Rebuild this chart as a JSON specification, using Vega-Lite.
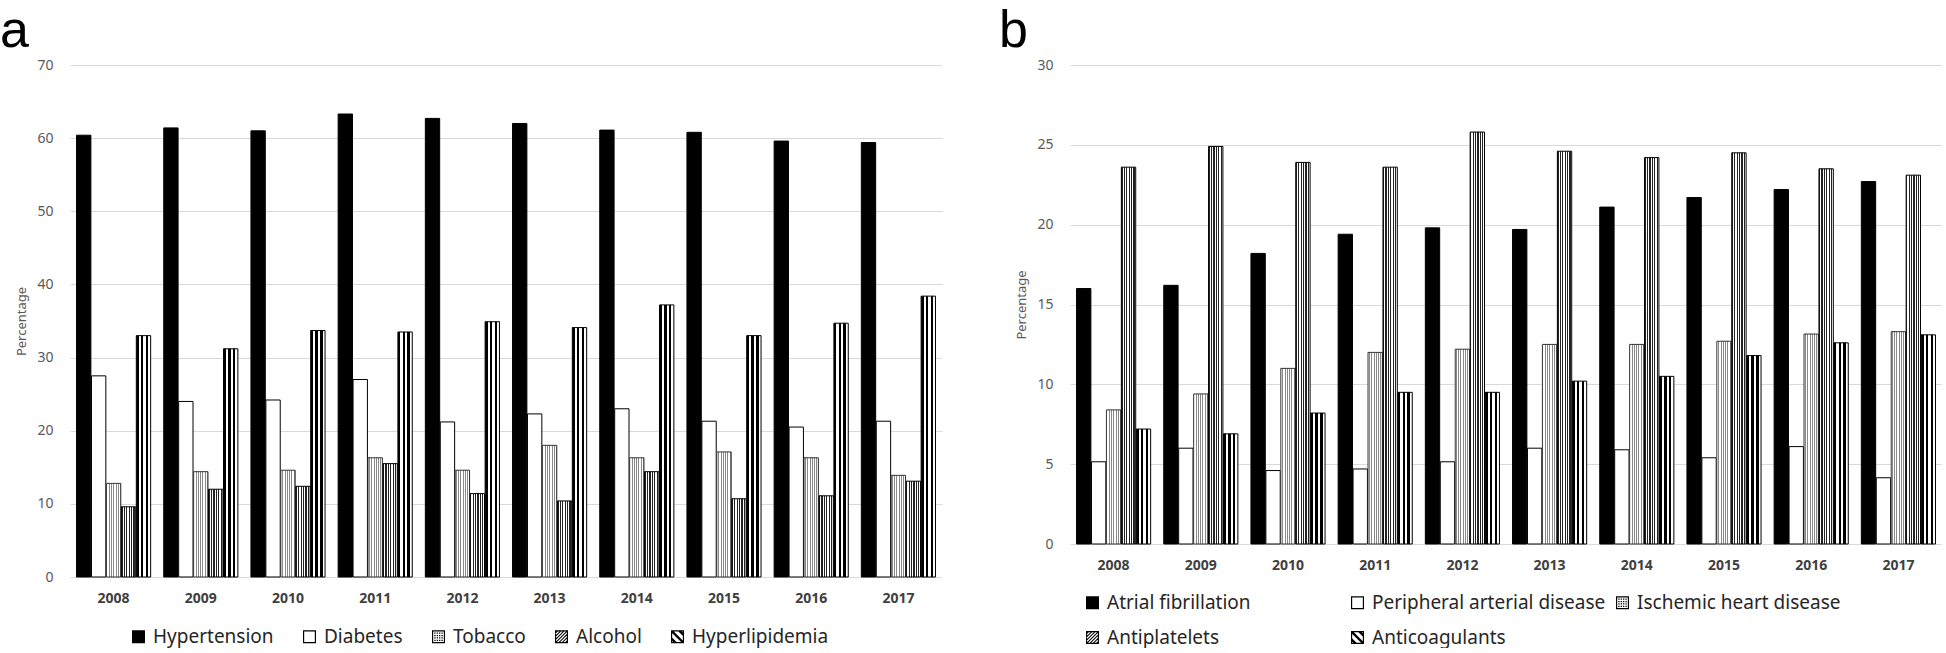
{
  "$schema": "https://vega.github.io/schema/vega-lite/v6.json",
  "background": "white",
  "padding": {"left": 0, "top": 5, "right": 0, "bottom": 0},
  "bounds": "flush",
  "spacing": 128,
  "config": {"view": {"stroke": null}, "font": "Noto Sans"},
  "resolve": {"scale": {"shape": "independent", "y": "independent", "x": "independent", "xOffset": "independent"}, "legend": {"shape": "independent"}},
  "datasets": {
    "a": [
      {"year": "2008", "series": "Hypertension", "value": 60.4},
      {"year": "2009", "series": "Hypertension", "value": 61.4},
      {"year": "2010", "series": "Hypertension", "value": 61.0},
      {"year": "2011", "series": "Hypertension", "value": 63.3},
      {"year": "2012", "series": "Hypertension", "value": 62.7},
      {"year": "2013", "series": "Hypertension", "value": 62.0},
      {"year": "2014", "series": "Hypertension", "value": 61.1},
      {"year": "2015", "series": "Hypertension", "value": 60.8},
      {"year": "2016", "series": "Hypertension", "value": 59.6},
      {"year": "2017", "series": "Hypertension", "value": 59.4},
      {"year": "2008", "series": "Diabetes", "value": 27.5},
      {"year": "2009", "series": "Diabetes", "value": 24.0},
      {"year": "2010", "series": "Diabetes", "value": 24.2},
      {"year": "2011", "series": "Diabetes", "value": 27.0},
      {"year": "2012", "series": "Diabetes", "value": 21.2},
      {"year": "2013", "series": "Diabetes", "value": 22.3},
      {"year": "2014", "series": "Diabetes", "value": 23.0},
      {"year": "2015", "series": "Diabetes", "value": 21.3},
      {"year": "2016", "series": "Diabetes", "value": 20.5},
      {"year": "2017", "series": "Diabetes", "value": 21.3},
      {"year": "2008", "series": "Tobacco", "value": 12.8},
      {"year": "2009", "series": "Tobacco", "value": 14.4},
      {"year": "2010", "series": "Tobacco", "value": 14.6},
      {"year": "2011", "series": "Tobacco", "value": 16.3},
      {"year": "2012", "series": "Tobacco", "value": 14.6},
      {"year": "2013", "series": "Tobacco", "value": 18.0},
      {"year": "2014", "series": "Tobacco", "value": 16.3},
      {"year": "2015", "series": "Tobacco", "value": 17.1},
      {"year": "2016", "series": "Tobacco", "value": 16.3},
      {"year": "2017", "series": "Tobacco", "value": 13.9},
      {"year": "2008", "series": "Alcohol", "value": 9.6},
      {"year": "2009", "series": "Alcohol", "value": 12.0},
      {"year": "2010", "series": "Alcohol", "value": 12.4},
      {"year": "2011", "series": "Alcohol", "value": 15.5},
      {"year": "2012", "series": "Alcohol", "value": 11.4},
      {"year": "2013", "series": "Alcohol", "value": 10.4},
      {"year": "2014", "series": "Alcohol", "value": 14.4},
      {"year": "2015", "series": "Alcohol", "value": 10.7},
      {"year": "2016", "series": "Alcohol", "value": 11.1},
      {"year": "2017", "series": "Alcohol", "value": 13.1},
      {"year": "2008", "series": "Hyperlipidemia", "value": 33.0},
      {"year": "2009", "series": "Hyperlipidemia", "value": 31.2},
      {"year": "2010", "series": "Hyperlipidemia", "value": 33.7},
      {"year": "2011", "series": "Hyperlipidemia", "value": 33.5},
      {"year": "2012", "series": "Hyperlipidemia", "value": 34.9},
      {"year": "2013", "series": "Hyperlipidemia", "value": 34.1},
      {"year": "2014", "series": "Hyperlipidemia", "value": 37.2},
      {"year": "2015", "series": "Hyperlipidemia", "value": 33.0},
      {"year": "2016", "series": "Hyperlipidemia", "value": 34.7},
      {"year": "2017", "series": "Hyperlipidemia", "value": 38.4}
    ],
    "b": [
      {"year": "2008", "series": "Atrial fibrillation", "value": 16.0},
      {"year": "2009", "series": "Atrial fibrillation", "value": 16.2},
      {"year": "2010", "series": "Atrial fibrillation", "value": 18.2},
      {"year": "2011", "series": "Atrial fibrillation", "value": 19.4},
      {"year": "2012", "series": "Atrial fibrillation", "value": 19.8},
      {"year": "2013", "series": "Atrial fibrillation", "value": 19.7},
      {"year": "2014", "series": "Atrial fibrillation", "value": 21.1},
      {"year": "2015", "series": "Atrial fibrillation", "value": 21.7},
      {"year": "2016", "series": "Atrial fibrillation", "value": 22.2},
      {"year": "2017", "series": "Atrial fibrillation", "value": 22.7},
      {"year": "2008", "series": "Peripheral arterial disease", "value": 5.15},
      {"year": "2009", "series": "Peripheral arterial disease", "value": 6.0},
      {"year": "2010", "series": "Peripheral arterial disease", "value": 4.6},
      {"year": "2011", "series": "Peripheral arterial disease", "value": 4.7},
      {"year": "2012", "series": "Peripheral arterial disease", "value": 5.15},
      {"year": "2013", "series": "Peripheral arterial disease", "value": 6.0},
      {"year": "2014", "series": "Peripheral arterial disease", "value": 5.9},
      {"year": "2015", "series": "Peripheral arterial disease", "value": 5.4},
      {"year": "2016", "series": "Peripheral arterial disease", "value": 6.1},
      {"year": "2017", "series": "Peripheral arterial disease", "value": 4.15},
      {"year": "2008", "series": "Ischemic heart disease", "value": 8.4},
      {"year": "2009", "series": "Ischemic heart disease", "value": 9.4},
      {"year": "2010", "series": "Ischemic heart disease", "value": 11.0},
      {"year": "2011", "series": "Ischemic heart disease", "value": 12.0},
      {"year": "2012", "series": "Ischemic heart disease", "value": 12.2},
      {"year": "2013", "series": "Ischemic heart disease", "value": 12.5},
      {"year": "2014", "series": "Ischemic heart disease", "value": 12.5},
      {"year": "2015", "series": "Ischemic heart disease", "value": 12.7},
      {"year": "2016", "series": "Ischemic heart disease", "value": 13.15},
      {"year": "2017", "series": "Ischemic heart disease", "value": 13.3},
      {"year": "2008", "series": "Antiplatelets", "value": 23.6},
      {"year": "2009", "series": "Antiplatelets", "value": 24.9},
      {"year": "2010", "series": "Antiplatelets", "value": 23.9},
      {"year": "2011", "series": "Antiplatelets", "value": 23.6},
      {"year": "2012", "series": "Antiplatelets", "value": 25.8},
      {"year": "2013", "series": "Antiplatelets", "value": 24.6},
      {"year": "2014", "series": "Antiplatelets", "value": 24.2},
      {"year": "2015", "series": "Antiplatelets", "value": 24.5},
      {"year": "2016", "series": "Antiplatelets", "value": 23.5},
      {"year": "2017", "series": "Antiplatelets", "value": 23.1},
      {"year": "2008", "series": "Anticoagulants", "value": 7.2},
      {"year": "2009", "series": "Anticoagulants", "value": 6.9},
      {"year": "2010", "series": "Anticoagulants", "value": 8.2},
      {"year": "2011", "series": "Anticoagulants", "value": 9.5},
      {"year": "2012", "series": "Anticoagulants", "value": 9.5},
      {"year": "2013", "series": "Anticoagulants", "value": 10.2},
      {"year": "2014", "series": "Anticoagulants", "value": 10.5},
      {"year": "2015", "series": "Anticoagulants", "value": 11.8},
      {"year": "2016", "series": "Anticoagulants", "value": 12.6},
      {"year": "2017", "series": "Anticoagulants", "value": 13.1}
    ]
  },
  "hconcat": [
    {
      "data": {"name": "a"},
      "width": 872,
      "height": 512,
      "title": {"text": "a", "anchor": "start", "frame": "group", "font": "Liberation Sans", "fontSize": 52, "fontWeight": "normal", "color": "#000", "dx": -70, "baseline": "alphabetic", "offset": -41},
      "encoding": {
        "x": {"field": "year", "type": "ordinal", "scale": {"paddingInner": 0.15, "paddingOuter": 0.075},
          "axis": {"title": null, "labelAngle": 0, "labelFont": "Noto Sans", "labelFontSize": 14, "labelFontWeight": "bold", "labelColor": "#404040", "domain": false, "ticks": false, "labelPadding": 14}},
        "xOffset": {"field": "series", "type": "nominal", "scale": {"domain": ["Hypertension", "Diabetes", "Tobacco", "Alcohol", "Hyperlipidemia"], "paddingInner": 0.04}},
        "y": {"field": "value", "type": "quantitative", "scale": {"domain": [0, 70]},
          "axis": {"title": "Percentage", "values": [0, 10, 20, 30, 40, 50, 60, 70], "grid": true, "gridColor": "#d9d9d9", "gridWidth": 1.2, "domain": false, "ticks": false, "labelColor": "#595959", "labelFontSize": 14, "labelPadding": 17, "titleFontSize": 13, "titleFontWeight": "normal", "titleColor": "#595959", "titlePadding": 8}}
      },
      "layer": [
        {"transform": [{"filter": "datum.series === 'Hypertension'"}], "mark": {"type": "bar", "fill": "#000000", "stroke": "#000", "strokeWidth": 1}},
        {"transform": [{"filter": "datum.series === 'Diabetes'"}], "mark": {"type": "bar", "fill": "#ffffff", "stroke": "#000", "strokeWidth": 1}},
        {"transform": [{"filter": "datum.series === 'Tobacco'"}], "mark": {"type": "bar", "stroke": "#333", "strokeWidth": 1,
          "fill": {"gradient": "linear", "x1": 0, "y1": 0, "x2": 1, "y2": 0, "stops": [
            {"offset": 0, "color": "#ffffff"}, {"offset": 0.075, "color": "#ffffff"}, {"offset": 0.075, "color": "#888888"}, {"offset": 0.125, "color": "#888888"},
            {"offset": 0.125, "color": "#ffffff"}, {"offset": 0.2, "color": "#ffffff"}, {"offset": 0.2, "color": "#888888"}, {"offset": 0.25, "color": "#888888"},
            {"offset": 0.25, "color": "#ffffff"}, {"offset": 0.325, "color": "#ffffff"}, {"offset": 0.325, "color": "#888888"}, {"offset": 0.375, "color": "#888888"},
            {"offset": 0.375, "color": "#ffffff"}, {"offset": 0.45, "color": "#ffffff"}, {"offset": 0.45, "color": "#888888"}, {"offset": 0.5, "color": "#888888"},
            {"offset": 0.5, "color": "#ffffff"}, {"offset": 0.575, "color": "#ffffff"}, {"offset": 0.575, "color": "#888888"}, {"offset": 0.625, "color": "#888888"},
            {"offset": 0.625, "color": "#ffffff"}, {"offset": 0.7, "color": "#ffffff"}, {"offset": 0.7, "color": "#888888"}, {"offset": 0.75, "color": "#888888"},
            {"offset": 0.75, "color": "#ffffff"}, {"offset": 0.825, "color": "#ffffff"}, {"offset": 0.825, "color": "#888888"}, {"offset": 0.875, "color": "#888888"},
            {"offset": 0.875, "color": "#ffffff"}, {"offset": 0.95, "color": "#ffffff"}, {"offset": 0.95, "color": "#888888"}, {"offset": 1, "color": "#888888"}]}}},
        {"transform": [{"filter": "datum.series === 'Alcohol'"}], "mark": {"type": "bar", "stroke": "#000", "strokeWidth": 1,
          "fill": {"gradient": "linear", "x1": 0, "y1": 0, "x2": 1, "y2": 0, "stops": [
            {"offset": 0, "color": "#222222"}, {"offset": 0.083, "color": "#222222"}, {"offset": 0.083, "color": "#ffffff"}, {"offset": 0.167, "color": "#ffffff"},
            {"offset": 0.167, "color": "#222222"}, {"offset": 0.25, "color": "#222222"}, {"offset": 0.25, "color": "#ffffff"}, {"offset": 0.333, "color": "#ffffff"},
            {"offset": 0.333, "color": "#222222"}, {"offset": 0.417, "color": "#222222"}, {"offset": 0.417, "color": "#ffffff"}, {"offset": 0.5, "color": "#ffffff"},
            {"offset": 0.5, "color": "#222222"}, {"offset": 0.583, "color": "#222222"}, {"offset": 0.583, "color": "#ffffff"}, {"offset": 0.667, "color": "#ffffff"},
            {"offset": 0.667, "color": "#222222"}, {"offset": 0.75, "color": "#222222"}, {"offset": 0.75, "color": "#ffffff"}, {"offset": 0.833, "color": "#ffffff"},
            {"offset": 0.833, "color": "#222222"}, {"offset": 0.917, "color": "#222222"}, {"offset": 0.917, "color": "#ffffff"}, {"offset": 1, "color": "#ffffff"}]}}},
        {"transform": [{"filter": "datum.series === 'Hyperlipidemia'"}], "mark": {"type": "bar", "stroke": "#000", "strokeWidth": 1,
          "fill": {"gradient": "linear", "x1": 0, "y1": 0, "x2": 1, "y2": 0, "stops": [
            {"offset": 0, "color": "#000000"}, {"offset": 0.167, "color": "#000000"}, {"offset": 0.167, "color": "#ffffff"}, {"offset": 0.333, "color": "#ffffff"},
            {"offset": 0.333, "color": "#000000"}, {"offset": 0.5, "color": "#000000"}, {"offset": 0.5, "color": "#ffffff"}, {"offset": 0.667, "color": "#ffffff"},
            {"offset": 0.667, "color": "#000000"}, {"offset": 0.833, "color": "#000000"}, {"offset": 0.833, "color": "#ffffff"}, {"offset": 1, "color": "#ffffff"}]}}},
        {"mark": {"type": "point", "filled": true, "size": 0, "opacity": 1, "color": "#000"},
          "encoding": {"shape": {"field": "series", "type": "nominal",
            "scale": {"domain": ["Hypertension", "Diabetes", "Tobacco", "Alcohol", "Hyperlipidemia"],
              "range": [
                "M-1,-1H1V1H-1Z",
                "M-1,-1H1V1H-1Z M-0.82,-0.82V0.82H0.82V-0.82Z",
                "M-1,-1H1V1H-1Z M-0.82,-0.82V0.82H0.82V-0.82Z M-0.65,-0.65h0.2v0.2h-0.2Z M-0.28,-0.65h0.2v0.2h-0.2Z M0.08,-0.65h0.2v0.2h-0.2Z M0.45,-0.65h0.2v0.2h-0.2Z M-0.65,-0.28h0.2v0.2h-0.2Z M-0.28,-0.28h0.2v0.2h-0.2Z M0.08,-0.28h0.2v0.2h-0.2Z M0.45,-0.28h0.2v0.2h-0.2Z M-0.65,0.08h0.2v0.2h-0.2Z M-0.28,0.08h0.2v0.2h-0.2Z M0.08,0.08h0.2v0.2h-0.2Z M0.45,0.08h0.2v0.2h-0.2Z M-0.65,0.45h0.2v0.2h-0.2Z M-0.28,0.45h0.2v0.2h-0.2Z M0.08,0.45h0.2v0.2h-0.2Z M0.45,0.45h0.2v0.2h-0.2Z",
                "M-1,-1H1V1H-1Z M-0.82,-0.82V0.82H0.82V-0.82Z M-1,-0.61L-0.61,-1L-0.39,-1L-1,-0.39Z M-1,-0.11L-0.11,-1L0.11,-1L-1,0.11Z M-1,0.39L0.39,-1L0.61,-1L-1,0.61Z M-1,0.89L0.89,-1L1,-1L1,-0.89L-0.89,1L-1,1Z M1,-0.39L-0.39,1L-0.61,1L1,-0.61Z M1,0.11L0.11,1L-0.11,1L1,-0.11Z M1,0.61L0.61,1L0.39,1L1,0.39Z",
                "M-1,-1H1V1H-1Z M-0.82,-0.82V0.82H0.82V-0.82Z M-1,-0.05L0.05,1L-0.45,1L-1,0.45Z M-1,-1L-0.75,-1L1,0.75L1,1L0.75,1L-1,-0.75Z M1,0.05L-0.05,-1L0.45,-1L1,-0.45Z"
              ]},
            "legend": {"title": null, "orient": "none", "legendX": 59, "legendY": 562, "direction": "horizontal", "columns": 5, "symbolSize": 169, "symbolFillColor": "#000", "symbolStrokeWidth": 0, "symbolOpacity": 1, "labelFont": "Noto Sans", "labelFontSize": 19, "labelColor": "#262626", "labelOffset": 5, "columnPadding": 26, "labelLimit": 400}}}}
      ]
    },
    {
      "data": {"name": "b"},
      "width": 872,
      "height": 479,
      "title": {"text": "b", "anchor": "start", "frame": "group", "font": "Liberation Sans", "fontSize": 52, "fontWeight": "normal", "color": "#000", "dx": -71, "baseline": "alphabetic", "offset": -41},
      "encoding": {
        "x": {"field": "year", "type": "ordinal", "scale": {"paddingInner": 0.15, "paddingOuter": 0.075},
          "axis": {"title": null, "labelAngle": 0, "labelFont": "Noto Sans", "labelFontSize": 14, "labelFontWeight": "bold", "labelColor": "#404040", "domain": false, "ticks": false, "labelPadding": 14}},
        "xOffset": {"field": "series", "type": "nominal", "scale": {"domain": ["Atrial fibrillation", "Peripheral arterial disease", "Ischemic heart disease", "Antiplatelets", "Anticoagulants"], "paddingInner": 0.04}},
        "y": {"field": "value", "type": "quantitative", "scale": {"domain": [0, 30]},
          "axis": {"title": "Percentage", "values": [0, 5, 10, 15, 20, 25, 30], "grid": true, "gridColor": "#d9d9d9", "gridWidth": 1.2, "domain": false, "ticks": false, "labelColor": "#595959", "labelFontSize": 14, "labelPadding": 17, "titleFontSize": 13, "titleFontWeight": "normal", "titleColor": "#595959", "titlePadding": 8}}
      },
      "layer": [
        {"transform": [{"filter": "datum.series === 'Atrial fibrillation'"}], "mark": {"type": "bar", "fill": "#000000", "stroke": "#000", "strokeWidth": 1}},
        {"transform": [{"filter": "datum.series === 'Peripheral arterial disease'"}], "mark": {"type": "bar", "fill": "#ffffff", "stroke": "#000", "strokeWidth": 1}},
        {"transform": [{"filter": "datum.series === 'Ischemic heart disease'"}], "mark": {"type": "bar", "stroke": "#333", "strokeWidth": 1,
          "fill": {"gradient": "linear", "x1": 0, "y1": 0, "x2": 1, "y2": 0, "stops": [
            {"offset": 0, "color": "#ffffff"}, {"offset": 0.075, "color": "#ffffff"}, {"offset": 0.075, "color": "#888888"}, {"offset": 0.125, "color": "#888888"},
            {"offset": 0.125, "color": "#ffffff"}, {"offset": 0.2, "color": "#ffffff"}, {"offset": 0.2, "color": "#888888"}, {"offset": 0.25, "color": "#888888"},
            {"offset": 0.25, "color": "#ffffff"}, {"offset": 0.325, "color": "#ffffff"}, {"offset": 0.325, "color": "#888888"}, {"offset": 0.375, "color": "#888888"},
            {"offset": 0.375, "color": "#ffffff"}, {"offset": 0.45, "color": "#ffffff"}, {"offset": 0.45, "color": "#888888"}, {"offset": 0.5, "color": "#888888"},
            {"offset": 0.5, "color": "#ffffff"}, {"offset": 0.575, "color": "#ffffff"}, {"offset": 0.575, "color": "#888888"}, {"offset": 0.625, "color": "#888888"},
            {"offset": 0.625, "color": "#ffffff"}, {"offset": 0.7, "color": "#ffffff"}, {"offset": 0.7, "color": "#888888"}, {"offset": 0.75, "color": "#888888"},
            {"offset": 0.75, "color": "#ffffff"}, {"offset": 0.825, "color": "#ffffff"}, {"offset": 0.825, "color": "#888888"}, {"offset": 0.875, "color": "#888888"},
            {"offset": 0.875, "color": "#ffffff"}, {"offset": 0.95, "color": "#ffffff"}, {"offset": 0.95, "color": "#888888"}, {"offset": 1, "color": "#888888"}]}}},
        {"transform": [{"filter": "datum.series === 'Antiplatelets'"}], "mark": {"type": "bar", "stroke": "#000", "strokeWidth": 1,
          "fill": {"gradient": "linear", "x1": 0, "y1": 0, "x2": 1, "y2": 0, "stops": [
            {"offset": 0, "color": "#222222"}, {"offset": 0.083, "color": "#222222"}, {"offset": 0.083, "color": "#ffffff"}, {"offset": 0.167, "color": "#ffffff"},
            {"offset": 0.167, "color": "#222222"}, {"offset": 0.25, "color": "#222222"}, {"offset": 0.25, "color": "#ffffff"}, {"offset": 0.333, "color": "#ffffff"},
            {"offset": 0.333, "color": "#222222"}, {"offset": 0.417, "color": "#222222"}, {"offset": 0.417, "color": "#ffffff"}, {"offset": 0.5, "color": "#ffffff"},
            {"offset": 0.5, "color": "#222222"}, {"offset": 0.583, "color": "#222222"}, {"offset": 0.583, "color": "#ffffff"}, {"offset": 0.667, "color": "#ffffff"},
            {"offset": 0.667, "color": "#222222"}, {"offset": 0.75, "color": "#222222"}, {"offset": 0.75, "color": "#ffffff"}, {"offset": 0.833, "color": "#ffffff"},
            {"offset": 0.833, "color": "#222222"}, {"offset": 0.917, "color": "#222222"}, {"offset": 0.917, "color": "#ffffff"}, {"offset": 1, "color": "#ffffff"}]}}},
        {"transform": [{"filter": "datum.series === 'Anticoagulants'"}], "mark": {"type": "bar", "stroke": "#000", "strokeWidth": 1,
          "fill": {"gradient": "linear", "x1": 0, "y1": 0, "x2": 1, "y2": 0, "stops": [
            {"offset": 0, "color": "#000000"}, {"offset": 0.167, "color": "#000000"}, {"offset": 0.167, "color": "#ffffff"}, {"offset": 0.333, "color": "#ffffff"},
            {"offset": 0.333, "color": "#000000"}, {"offset": 0.5, "color": "#000000"}, {"offset": 0.5, "color": "#ffffff"}, {"offset": 0.667, "color": "#ffffff"},
            {"offset": 0.667, "color": "#000000"}, {"offset": 0.833, "color": "#000000"}, {"offset": 0.833, "color": "#ffffff"}, {"offset": 1, "color": "#ffffff"}]}}},
        {"mark": {"type": "point", "filled": true, "size": 0, "opacity": 1, "color": "#000"},
          "encoding": {"shape": {"field": "series", "type": "nominal",
            "scale": {"domain": ["Atrial fibrillation", "Peripheral arterial disease", "Ischemic heart disease", "Antiplatelets", "Anticoagulants"],
              "range": [
                "M-1,-1H1V1H-1Z",
                "M-1,-1H1V1H-1Z M-0.82,-0.82V0.82H0.82V-0.82Z",
                "M-1,-1H1V1H-1Z M-0.82,-0.82V0.82H0.82V-0.82Z M-0.65,-0.65h0.2v0.2h-0.2Z M-0.28,-0.65h0.2v0.2h-0.2Z M0.08,-0.65h0.2v0.2h-0.2Z M0.45,-0.65h0.2v0.2h-0.2Z M-0.65,-0.28h0.2v0.2h-0.2Z M-0.28,-0.28h0.2v0.2h-0.2Z M0.08,-0.28h0.2v0.2h-0.2Z M0.45,-0.28h0.2v0.2h-0.2Z M-0.65,0.08h0.2v0.2h-0.2Z M-0.28,0.08h0.2v0.2h-0.2Z M0.08,0.08h0.2v0.2h-0.2Z M0.45,0.08h0.2v0.2h-0.2Z M-0.65,0.45h0.2v0.2h-0.2Z M-0.28,0.45h0.2v0.2h-0.2Z M0.08,0.45h0.2v0.2h-0.2Z M0.45,0.45h0.2v0.2h-0.2Z",
                "M-1,-1H1V1H-1Z M-0.82,-0.82V0.82H0.82V-0.82Z M-1,-0.61L-0.61,-1L-0.39,-1L-1,-0.39Z M-1,-0.11L-0.11,-1L0.11,-1L-1,0.11Z M-1,0.39L0.39,-1L0.61,-1L-1,0.61Z M-1,0.89L0.89,-1L1,-1L1,-0.89L-0.89,1L-1,1Z M1,-0.39L-0.39,1L-0.61,1L1,-0.61Z M1,0.11L0.11,1L-0.11,1L1,-0.11Z M1,0.61L0.61,1L0.39,1L1,0.39Z",
                "M-1,-1H1V1H-1Z M-0.82,-0.82V0.82H0.82V-0.82Z M-1,-0.05L0.05,1L-0.45,1L-1,0.45Z M-1,-1L-0.75,-1L1,0.75L1,1L0.75,1L-1,-0.75Z M1,0.05L-0.05,-1L0.45,-1L1,-0.45Z"
              ]},
            "legend": {"title": null, "orient": "none", "legendX": 13, "legendY": 528, "direction": "horizontal", "columns": 3, "gridAlign": "all", "symbolSize": 169, "symbolFillColor": "#000", "symbolStrokeWidth": 0, "symbolOpacity": 1, "labelFont": "Noto Sans", "labelFontSize": 19, "labelColor": "#262626", "labelOffset": 5, "columnPadding": 7, "rowPadding": 15, "labelLimit": 400}}}}
      ]
    }
  ]
}
